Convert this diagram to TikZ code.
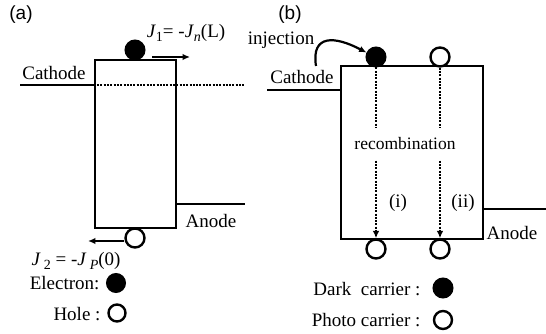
\documentclass[tikz,border=0pt]{standalone}
\usepackage{fontspec}
\setmainfont{Liberation Serif}
\newfontfamily\tagfont{Liberation Sans}
\usetikzlibrary{arrows.meta,positioning,calc}

\newcommand{\lowsub}[1]{\raisebox{-0.55ex}{\fontsize{14}{15}\selectfont #1}}

\begin{document}
\begin{tikzpicture}[
  x=1pt, y=-1pt,
  font=\fontsize{19}{21}\selectfont,
  device/.style={draw, line width=2.4pt, rectangle, inner sep=0pt},
  dark/.style={circle, fill=black, draw, line width=2pt, minimum size=19pt, inner sep=0pt},
  photo/.style={circle, fill=white, draw, line width=2.4pt, minimum size=19pt, inner sep=0pt},
  level/.style={line width=2.2pt},
  trace/.style={line width=2.4pt, dash pattern=on 2pt off 1.3pt},
  arr/.style={-{Latex[length=2.6mm,width=2.3mm]}, line width=2.2pt},
  tag/.style={font=\tagfont\fontsize{19}{21}\selectfont}
]
  \useasboundingbox (0,0) rectangle (546,334);

  % (a)
  \node[tag] (tagA) at (21,15) {(a)};
  \node[device, minimum width=81pt, minimum height=168pt] (boxA) at (135.5,144) {};
  \coordinate (catA) at (20,85);
  \coordinate (dotA) at (245,85);
  \coordinate (anA) at (245,204);
  \draw[level] (catA) -- (catA -| boxA.west);
  \draw[trace] (catA -| boxA.west) -- (dotA);
  \draw[level] (boxA.east |- anA) -- (anA);
  \node (catAtxt) at (54,73) {Cathode};
  \node (anAtxt) at (211,221) {Anode};
  \node[dark] (eA) at (135,50) {};
  \node[photo] (hA) at (135,238) {};
  \coordinate (j1s) at (152,57);
  \coordinate (j1e) at (190,57);
  \draw[arr] (j1s) -- (j1e);
  \node (j1) at (186,33) {\textit{J}\lowsub{1}= -\textit{J}\lowsub{\textit{n}}(L)};
  \coordinate (j2e) at (88,241);
  \draw[arr] (hA.west |- j2e) -- (j2e);
  \node (j2) at (76,261) {\textit{J}\,\lowsub{2} = -\textit{J}\,\lowsub{\textit{P}}(0)};
  \node[anchor=east] (elec) at (103,283) {Electron:};
  \node[dark, minimum size=18pt] (elecsym) at (116,283) {};
  \node[anchor=east] (hole) at (104,314) {Hole :};
  \node[photo, minimum size=17pt] (holesym) at (117,313) {};

  % (b)
  \node[tag] (tagB) at (290,15) {(b)};
  \node[device, minimum width=142pt, minimum height=173pt] (boxB) at (412,152.5) {};
  \coordinate (catB) at (267,90);
  \coordinate (anB) at (546,209);
  \draw[level] (catB) -- (catB -| boxB.west);
  \draw[level] (boxB.east |- anB) -- (anB);
  \node (catBtxt) at (302,77) {Cathode};
  \node (anBtxt) at (512,233) {Anode};
  \node (inj) at (281,40) {injection};
  \node[dark] (dB) at (376,57) {};
  \node[photo] (pB) at (440,57) {};
  \node[photo] (pB1) at (376,249) {};
  \node[photo] (pB2) at (440,249) {};
  \node[inner sep=0pt, minimum height=33pt, font=\fontsize{17.5}{19}\selectfont] (rec) at (405,144) {recombination};
  \coordinate (injs) at (316,66);
  \draw[arr] (injs) .. controls (311,34) and (335,36) .. (dB.155);
  \draw[trace] (dB.south) -- (dB.south |- rec.north);
  \draw[trace] (pB.south) -- (pB.south |- rec.north);
  \draw[trace, arr] (dB.south |- rec.south) -- (pB1.north);
  \draw[trace, arr] (pB.south |- rec.south) -- (pB2.north);
  \node (i) at (398,203) {(i)};
  \node (ii) at (463,203) {(ii)};
  \node[anchor=east] (darktxt) at (424,289) {Dark\ \ carrier :};
  \node[dark] (darksym) at (443,288) {};
  \node[anchor=east] (phototxt) at (424,320) {Photo carrier :};
  \node[photo, minimum size=18pt] (photosym) at (443,320) {};
\end{tikzpicture}
\end{document}
